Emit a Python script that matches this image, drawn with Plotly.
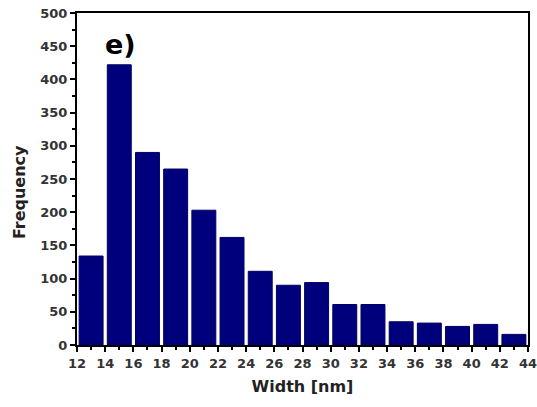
import plotly.graph_objects as go

bin_centers = [13, 15, 17, 19, 21, 23, 25, 27, 29, 31, 33, 35, 37, 39, 41, 43]
frequency = [134, 422, 290, 265, 203, 162, 111, 90, 94, 61, 61, 35, 33, 28, 31, 16]
x_ticks = list(range(12, 45, 2))
y_ticks = list(range(0, 501, 50))

fig = go.Figure()
fig.add_trace(go.Bar(
    x=bin_centers, y=frequency, width=1.7,
    marker=dict(color="#00007d", line=dict(color="#000060", width=1)),
))

fig.add_annotation(text="<b>e)</b>", x=15.1, y=453, xref="x", yref="y",
                   showarrow=False, font=dict(family="DejaVu Sans", size=27, color="black"))
fig.add_annotation(text="<b>Frequency</b>", x=-0.126, y=0.461, xref="paper", yref="paper",
                   xanchor="center", yanchor="middle", textangle=-90, showarrow=False,
                   font=dict(family="DejaVu Sans", size=16, color="#222222"))

axis_common = dict(showline=True, linecolor="black", linewidth=2, mirror=True,
                   ticks="outside", tickcolor="black", tickwidth=2, ticklen=5,
                   showgrid=False, zeroline=False, automargin=False,
                   ticklabeloverflow="allow",
                   tickfont=dict(family="DejaVu Sans", size=13, color="#333333", weight="bold"))

fig.update_layout(
    width=537, height=407,
    margin=dict(l=77, r=9, t=13, b=62),
    plot_bgcolor="white", paper_bgcolor="white",
    showlegend=False,
    xaxis=dict(range=[12, 44], tickvals=x_ticks,
               minor=dict(ticks="outside", dtick=1, tick0=12, ticklen=3, tickwidth=2, tickcolor="black"),
               title=dict(text="<b>Width [nm]</b>", standoff=11,
                          font=dict(family="DejaVu Sans", size=16, color="#222222")),
               **axis_common),
    yaxis=dict(range=[0, 500], tickvals=y_ticks,
               minor=dict(ticks="outside", dtick=25, tick0=0, ticklen=3, tickwidth=2, tickcolor="black"),
               **axis_common),
)

# remove the browser's default 8px body margin so the figure sits at the page origin
fig.write_html("out.html", config={"displayModeBar": False},
               post_script="document.body.style.margin='0';document.body.style.overflow='hidden';")
